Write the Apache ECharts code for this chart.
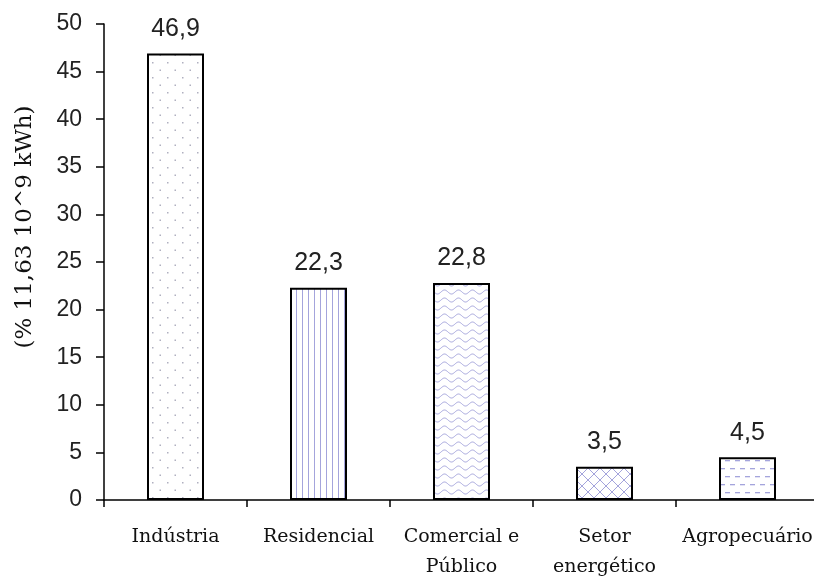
<!DOCTYPE html>
<html>
<head>
<meta charset="utf-8">
<script src="https://cdn.jsdelivr.net/npm/echarts@6/dist/echarts.min.js"></script>
<style>
  html, body { margin: 0; padding: 0; background: #fff; }
  #chart { width: 814px; height: 577px; }
</style>
</head>
<body>
<div id="chart"></div>
<script>
// Consumo final de eletricidade por setor
const categories = ['Indústria', 'Residencial', 'Comercial e\nPúblico', 'Setor\nenergético', 'Agropecuário'];
const values = [46.9, 22.3, 22.8, 3.5, 4.5];
const yMin = 0;
const yMax = 50;
const yStep = 5;
const yAxisTitle = '(% 11,63 10^9 kWh)';

// Fill patterns for each bar
function makeTile(w, h, draw) {
  const c = document.createElement('canvas');
  c.width = w; c.height = h;
  const ctx = c.getContext('2d');
  ctx.fillStyle = '#fff';
  ctx.fillRect(0, 0, w, h);
  draw(ctx);
  return c;
}
const lav = '#a4a4dc';
const dotTile = makeTile(15, 15, ctx => {
  ctx.fillStyle = '#b0b0c0';
  ctx.fillRect(2, 2, 1.5, 1.5);
  ctx.fillRect(9.5, 9.5, 1.5, 1.5);
});
const vlineTile = makeTile(6, 6, ctx => {
  ctx.fillStyle = lav;
  ctx.fillRect(2, 0, 1, 6);
});
const waveTile = makeTile(14, 8, ctx => {
  ctx.strokeStyle = lav;
  ctx.lineWidth = 1;
  ctx.beginPath();
  for (let x = 0; x <= 14; x += 0.5) {
    const y = 4 + 2 * Math.sin(x / 14 * Math.PI * 2);
    if (x === 0) ctx.moveTo(x, y); else ctx.lineTo(x, y);
  }
  ctx.stroke();
});
const crossTile = makeTile(12, 12, ctx => {
  ctx.strokeStyle = lav;
  ctx.lineWidth = 1;
  ctx.beginPath();
  ctx.moveTo(0, 0); ctx.lineTo(12, 12);
  ctx.moveTo(12, 0); ctx.lineTo(0, 12);
  ctx.stroke();
});
const dashTile = makeTile(10, 16, ctx => {
  ctx.fillStyle = lav;
  ctx.fillRect(0, 4, 5, 1.3);
  ctx.fillRect(5, 12, 5, 1.3);
});
const tiles = [dotTile, vlineTile, waveTile, crossTile, dashTile];

const chart = echarts.init(document.getElementById('chart'), null, { renderer: 'canvas' });
chart.setOption({
  backgroundColor: '#fff',
  animation: false,
  grid: {
    left: 104, top: 24, bottom: 77, right: -5,
    containLabel: false,
    outerBoundsMode: 'none'
  },
  xAxis: {
    type: 'category',
    data: categories,
    axisLine: { lineStyle: { color: '#000', width: 1.5 } },
    axisTick: { show: true, length: 7, lineStyle: { color: '#000', width: 1.5 } },
    axisLabel: {
      interval: 0,
      margin: 22,
      fontFamily: 'DejaVu Serif',
      fontSize: 19,
      lineHeight: 30,
      color: '#111'
    },
    splitLine: { show: false }
  },
  yAxis: {
    type: 'value',
    min: yMin,
    max: yMax,
    interval: yStep,
    name: yAxisTitle,
    nameLocation: 'middle',
    nameRotate: 90,
    nameGap: 67,
    nameTextStyle: {
      fontFamily: 'DejaVu Serif',
      fontSize: 23,
      color: '#111',
      padding: [0, 0, 0, 70]
    },
    axisLine: { show: true, lineStyle: { color: '#000', width: 1.5 } },
    axisTick: { show: true, length: 8, lineStyle: { color: '#000', width: 1.5 } },
    axisLabel: { margin: 22, fontFamily: 'Liberation Sans', fontSize: 23, color: '#222' },
    splitLine: { show: false }
  },
  series: [{
    type: 'bar',
    barWidth: 57,
    data: values.map((v, i) => ({
      value: v,
      itemStyle: { color: { image: tiles[i], repeat: 'repeat' } }
    })),
    itemStyle: { borderColor: '#000', borderWidth: 2 },
    label: {
      show: true,
      position: 'top',
      distance: 12,
      fontFamily: 'Liberation Sans',
      fontSize: 25,
      color: '#222',
      formatter: p => String(p.value).replace('.', ',')
    }
  }]
});
</script>
</body>
</html>
